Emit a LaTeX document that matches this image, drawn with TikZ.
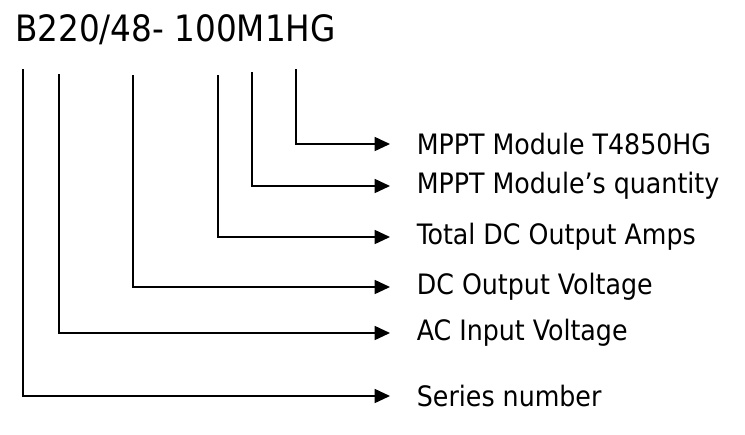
\documentclass[tikz,border=0pt]{standalone}
\usepackage{fontspec}
\setmainfont{DejaVu Sans Condensed}
\usetikzlibrary{arrows.meta, positioning}

\begin{document}
\begin{tikzpicture}[
  x=0.03cm, y=-0.03cm,
  codetext/.style={anchor=base west, inner sep=0pt, font=\fontsize{31}{33}\selectfont},
  fieldlabel/.style={anchor=west, inner ysep=0pt, inner xsep=0.8cm,
                     font=\fontsize{24}{26}\selectfont},
  lead/.style={-{Triangle[length=4.6mm, width=4.2mm]}, line width=1.4pt},
]
\useasboundingbox (0,0) rectangle (745,434);

\node[codetext] (code) at (15,41) {B220/48- 100M1HG};

% field descriptions
\node[fieldlabel] (hg)     at (390,144) {MPPT Module T4850HG};
\node[fieldlabel] (qty)    at (390,186) {MPPT Module’s quantity};
\node[fieldlabel] (amps)   at (390,237) {Total DC Output Amps};
\node[fieldlabel] (dcout)  at (390,287) {DC Output Voltage};
\node[fieldlabel] (acin)   at (390,333) {AC Input Voltage};
\node[fieldlabel] (series) at (390,396) {Series number};

% tops of the leads
\coordinate (tS)  at (23,69);
\coordinate (tA)  at (59,74);
\coordinate (tD)  at (133,75);
\coordinate (tT)  at (218,75);
\coordinate (tQ)  at (252,72);
\coordinate (tH)  at (296,69);

\draw[lead] (tH) |- (hg.west);
\draw[lead] (tQ) |- (qty.west);
\draw[lead] (tT) |- (amps.west);
\draw[lead] (tD) |- (dcout.west);
\draw[lead] (tA) |- (acin.west);
\draw[lead] (tS) |- (series.west);
\end{tikzpicture}
\end{document}
